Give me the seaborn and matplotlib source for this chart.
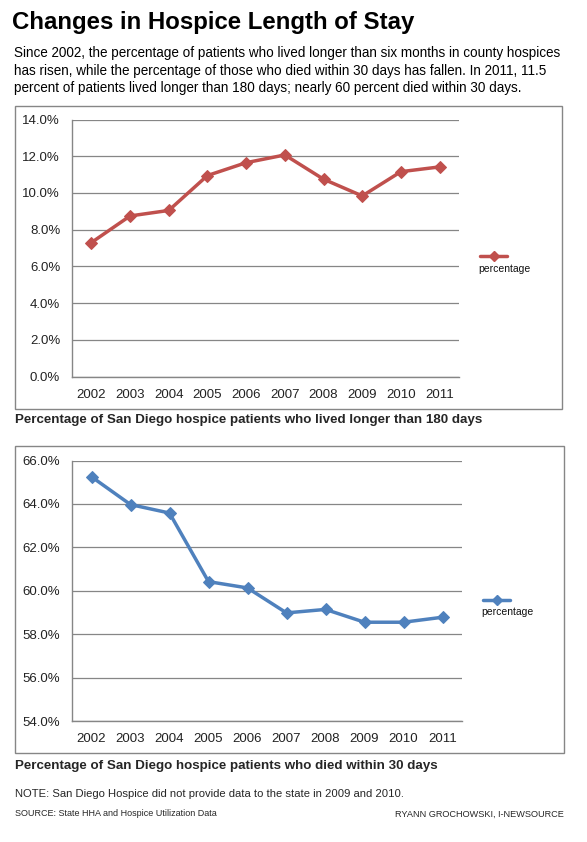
import numpy as np
import pandas as pd
import seaborn as sns
import matplotlib.pyplot as plt
from matplotlib.lines import Line2D
from matplotlib.patches import Rectangle
from matplotlib.ticker import FixedLocator, FuncFormatter

# Data
years = ['2002', '2003', '2004', '2005', '2006', '2007', '2008', '2009', '2010', '2011']
lived_180 = [7.3, 8.75, 9.05, 10.95, 11.65, 12.07, 10.75, 9.84, 11.16, 11.42]
died_30 = [65.25, 63.97, 63.58, 60.42, 60.13, 58.98, 59.14, 58.55, 58.55, 58.78]

sns.set_style('white')
plt.rcParams['font.family'] = ['Liberation Sans', 'DejaVu Sans']

W, H = 587, 842
fig = plt.figure(figsize=(W / 100, H / 100), dpi=100)
GRAY = '#868686'


def fx(px):
    return px / W


def fy(py):
    return 1 - py / H


def make_panel(box, area, values, color, ylim, yticks, legend_xy):
    # outer chart border
    x0, y0, x1, y1 = box
    fig.add_artist(Rectangle((fx(x0), fy(y1)), fx(x1 - x0), (y1 - y0) / H,
                             transform=fig.transFigure, fill=False,
                             edgecolor=GRAY, linewidth=1))
    l, t, r, b = area
    ax = fig.add_axes([fx(l), fy(b), fx(r - l), (b - t) / H])
    df = pd.DataFrame({'pos': np.arange(len(years)), 'value': values})
    sns.lineplot(data=df, x='pos', y='value', ax=ax, color=color,
                 linewidth=2.5, marker='D', markersize=6.5,
                 markeredgecolor=color, zorder=3)
    ax.set_xlim(-0.5, len(years) - 0.5)
    ax.set_ylim(*ylim)
    ax.set_yticks(yticks)
    ax.yaxis.set_major_formatter(FuncFormatter(lambda v, p: f'{v:.1f}%'))
    ax.set_xticks(np.arange(len(years)))
    ax.set_xticklabels(years)
    ax.xaxis.set_minor_locator(FixedLocator(np.arange(-0.5, len(years), 1.0)))
    ax.tick_params(axis='x', which='major', length=0, pad=9, labelsize=9.5,
                   labelcolor='#222222')
    ax.tick_params(axis='x', which='minor', length=3.5, width=1, color=GRAY,
                   direction='out')
    ax.tick_params(axis='y', which='major', length=3.5, width=1, color=GRAY,
                   direction='out', pad=5, labelsize=9.5, labelcolor='#222222')
    ax.grid(axis='y', color=GRAY, linewidth=0.9)
    ax.set_axisbelow(True)
    for s in ['top', 'right']:
        ax.spines[s].set_visible(False)
    for s in ['left', 'bottom']:
        ax.spines[s].set_color(GRAY)
        ax.spines[s].set_linewidth(1)
    ax.set_xlabel('')
    ax.set_ylabel('')
    if ax.get_legend():
        ax.get_legend().remove()
    # Excel-style legend: line symbol above the label
    lx, ly = legend_xy
    fig.add_artist(Line2D([fx(lx), fx(lx + 27)], [fy(ly), fy(ly)],
                          transform=fig.transFigure, color=color, linewidth=2.5))
    fig.add_artist(Line2D([fx(lx + 13.5)], [fy(ly)], transform=fig.transFigure,
                          color=color, marker='D', markersize=5.5))
    fig.text(fx(lx - 2), fy(ly + 12.5), 'percentage', fontsize=7.5,
             ha='left', va='center', color='#111111')
    return ax


make_panel((15, 106, 562, 409), (72, 119.5, 459, 376.7), lived_180, '#C0504D',
           (0, 14), np.arange(0, 14.01, 2), (480, 256))
make_panel((15, 446, 564, 753), (72, 460.5, 462, 721), died_30, '#4F81BD',
           (54, 66), np.arange(54, 66.01, 2), (483, 599.5))

fig.text(fx(12), fy(23), 'Changes in Hospice Length of Stay', fontsize=17.3,
         fontweight='bold', ha='left', va='center', color='#000000')
sub = ['Since 2002, the percentage of patients who lived longer than six months in county hospices',
       'has risen, while the percentage of those who died within 30 days has fallen. In 2011, 11.5',
       'percent of patients lived longer than 180 days; nearly 60 percent died within 30 days.']
for i, line in enumerate(sub):
    fig.text(fx(14), fy(53 + 17.5 * i), line, fontsize=9.75, ha='left',
             va='center', color='#000000')

fig.text(fx(15), fy(420.5), 'Percentage of San Diego hospice patients who lived longer than 180 days',
         fontsize=9.6, fontweight='bold', ha='left', va='center')
fig.text(fx(15), fy(766), 'Percentage of San Diego hospice patients who died within 30 days',
         fontsize=9.6, fontweight='bold', ha='left', va='center')
fig.text(fx(15), fy(794), 'NOTE: San Diego Hospice did not provide data to the state in 2009 and 2010.',
         fontsize=8.1, ha='left', va='center')
fig.text(fx(15), fy(814), 'SOURCE: State HHA and Hospice Utilization Data',
         fontsize=6.5, ha='left', va='center')
fig.text(fx(564), fy(814), 'RYANN GROCHOWSKI, I-NEWSOURCE',
         fontsize=6.6, ha='right', va='center')

fig.savefig('out.png', dpi=100)
